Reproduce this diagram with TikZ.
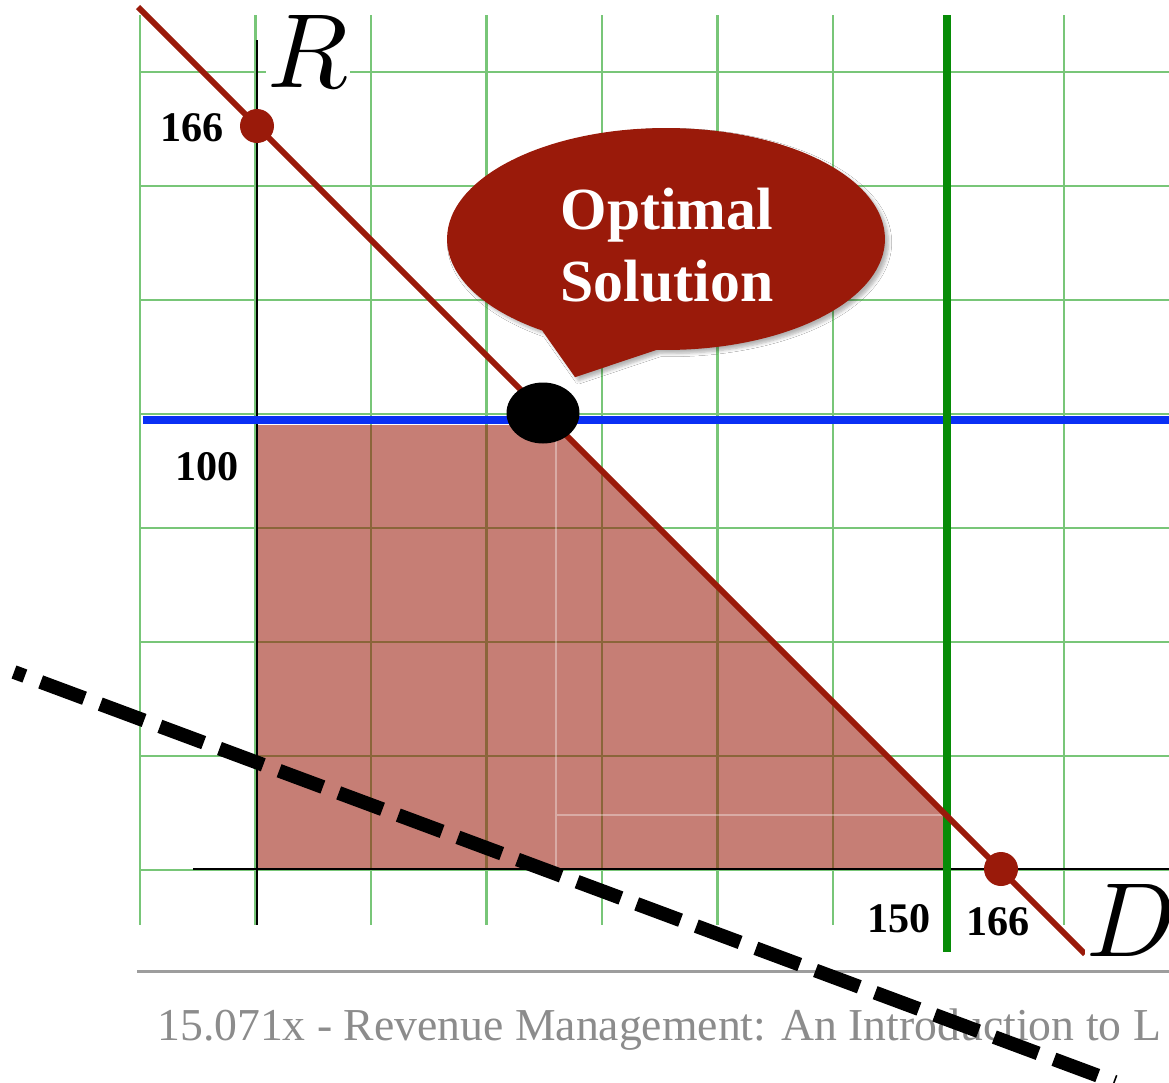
\documentclass[tikz,border=0pt]{standalone}
\usepackage{fontspec}
\setmainfont{Liberation Serif}
\usepackage{xcolor}
\usepackage{graphicx}
\usepackage{tikz}
\usetikzlibrary{shapes.geometric,shapes.callouts,shadows.blur}
\definecolor{solred}{HTML}{9A1A0A}
\definecolor{gridgreen}{HTML}{78C678}
\definecolor{capblue}{HTML}{0A30F5}
\definecolor{capgreen}{HTML}{078C07}
\definecolor{footgray}{HTML}{8C8C8C}

\begin{document}
\begin{tikzpicture}[x=0.02cm,y=-0.02cm]
\tikzset{gridline/.style={draw=gridgreen,line width=1.2pt},axis/.style={draw=black,line width=1.6pt},feas/.style={fill=solred,fill opacity=0.56},budget/.style={draw=solred,line width=3.3pt},limit/.style={line width=4.2pt},corner/.style={circle,fill=solred,minimum size=0.68cm,inner sep=0pt},tick/.style={font=\fontsize{24}{24}\selectfont\bfseries,inner sep=1pt},axlabel/.style={fill=white,inner sep=1pt},iso/.style={draw=black,line width=7.9pt,dash pattern=on 26.6pt off 9.6pt,dash phase=20pt}}
\useasboundingbox[fill=white] (0,0) rectangle (1169,1082);
\foreach \i in {0,...,8} \draw[gridline] (140+115.5*\i,15) -- (140+115.5*\i,925);
\foreach \j in {0,...,7} \draw[gridline] (140,72+114*\j) -- (1169,72+114*\j);
\fill[feas] (257,425) -- (556,425) -- (947,816) -- (947,869) -- (257,869) -- cycle;
\draw[white,opacity=0.35,line width=0.6pt] (556,425) -- (556,869) (556,815) -- (947,815);
\draw[axis] (257,40) -- (257,925);
\draw[axis] (193,869) -- (1169,869);
\draw[limit,capblue] (143,420) -- (1169,420);
\draw[limit,capgreen] (947,15) -- (947,952);
\draw[budget] (138,7) -- (1085,954);
\node[corner] (rcut) at (257,126) {};
\node[corner] (dcut) at (1001,869) {};
\node[ellipse,fill=black,minimum width=1.46cm,minimum height=1.22cm,inner sep=0pt] (opt) at (543,413) {};
\node[ellipse callout,fill=solred,minimum width=8.76cm,minimum height=4.44cm,callout absolute pointer={([shift={(6,-14)}]opt.north east)},callout pointer arc=32,blur shadow={shadow xshift=2pt,shadow yshift=-2pt,shadow opacity=30,shadow blur steps=6}] (note) at (666,239) {};
\node[text=white,align=center,font=\fontsize{34}{41}\selectfont\bfseries] (notetext) at (667,245) {Optimal\\Solution};
\node[tick] (r166) at (192,128) {166};
\node[tick] (r100) at (207,467) {100};
\node[tick] (d150) at (899,919) {150};
\node[tick] (d166) at (998,922) {166};
\node[axlabel] (rlab) at (308,51) {\scalebox{6}{$R$}};
\node[axlabel] (dlab) at (1132,920) {\scalebox{6}{$D$}};
\draw[draw=footgray!85,line width=1.7pt] (137,971) -- (1169,971);
\node[anchor=base west,text=footgray,font=\fontsize{26}{26}\selectfont,inner sep=0pt] (foot) at (157,1040) {15.071x - Revenue Management: An Introduction to L};
\draw[iso] (14,672) -- (1115,1082);
\end{tikzpicture}
\end{document}
